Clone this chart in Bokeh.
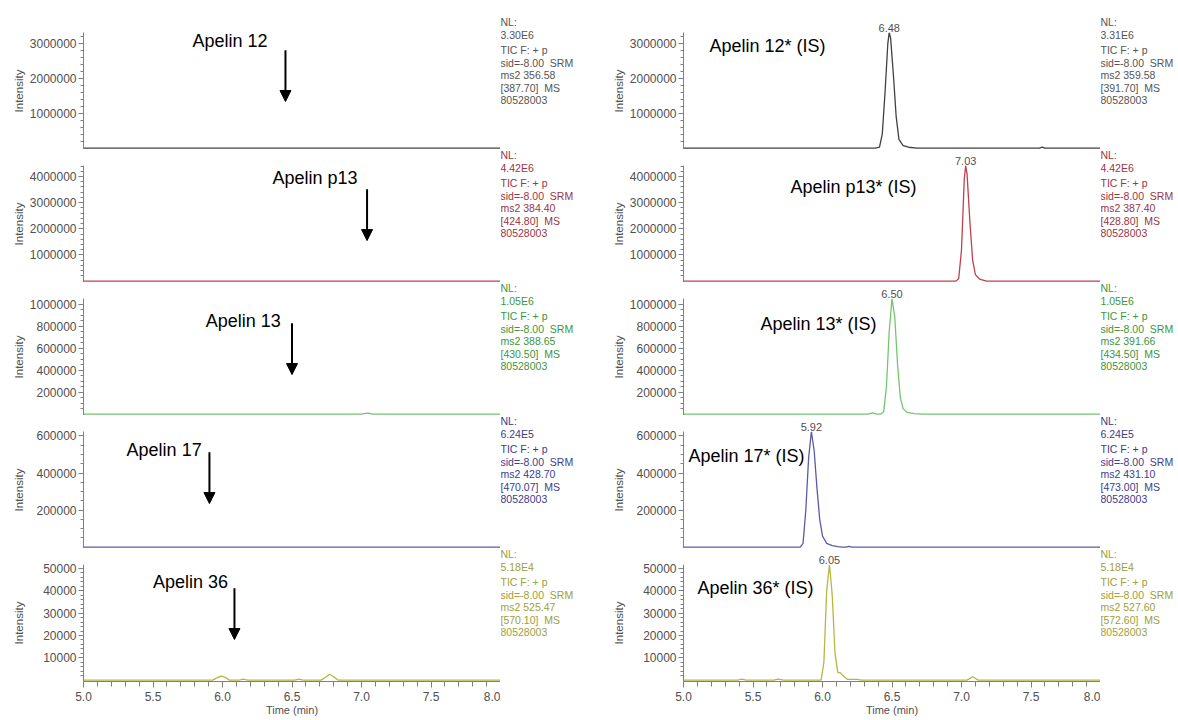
import numpy as np
from bokeh.plotting import figure
from bokeh.layouts import row, column
from bokeh.models import (Range1d, FixedTicker, NumeralTickFormatter, Label, Arrow,
                          NormalHead, Title)
from bokeh.embed import file_html
from bokeh.resources import INLINE

FONT = "Liberation Sans"

# ---------------- data ----------------
analytes = ["Apelin 12", "Apelin p13", "Apelin 13", "Apelin 17", "Apelin 36"]
standards = ["Apelin 12* (IS)", "Apelin p13* (IS)", "Apelin 13* (IS)", "Apelin 17* (IS)", "Apelin 36* (IS)"]
retention_times = [6.48, 7.03, 6.50, 5.92, 6.05]
rt_labels = ["6.48", "7.03", "6.50", "5.92", "6.05"]

nl_left = [3.30e6, 4.42e6, 1.05e6, 6.24e5, 5.18e4]
nl_right = [3.31e6, 4.42e6, 1.05e6, 6.24e5, 5.18e4]
nl_left_text = ["3.30E6", "4.42E6", "1.05E6", "6.24E5", "5.18E4"]
nl_right_text = ["3.31E6", "4.42E6", "1.05E6", "6.24E5", "5.18E4"]
precursor_left = ["356.58", "384.40", "388.65", "428.70", "525.47"]
product_left = ["387.70", "424.80", "430.50", "470.07", "570.10"]
precursor_right = ["359.58", "387.40", "391.66", "431.10", "527.60"]
product_right = ["391.70", "428.80", "434.50", "473.00", "572.60"]
file_id = "80528003"

y_major = [
    [1000000, 2000000, 3000000],
    [1000000, 2000000, 3000000, 4000000],
    [200000, 400000, 600000, 800000, 1000000],
    [200000, 400000, 600000],
    [10000, 20000, 30000, 40000, 50000],
]
y_minor_step = [200000, 200000, 50000, 50000, 2000]
x_major = [5.0, 5.5, 6.0, 6.5, 7.0, 7.5, 8.0]

# left column traces (analytes, essentially no signal)
left_t = [
    [5.0, 8.0],
    [5.0, 8.0],
    [5.0, 7.00, 7.03, 7.05, 7.08, 8.0],
    [5.0, 8.0],
    [5.0, 5.93, 5.96, 5.99, 6.02, 6.05, 6.12, 6.15, 6.18, 6.52, 6.55, 6.58,
     6.71, 6.74, 6.77, 6.80, 6.83, 8.0],
]
left_y = [
    [0, 0],
    [0, 0],
    [0, 0, 7000, 9000, 0, 0],
    [0, 0],
    [0, 0, 1000, 1800, 1200, 0, 0, 400, 0, 0, 400, 0,
     0, 1200, 2600, 1500, 0, 0],
]

# right column traces (internal standards)
right_t = [
    [5.0, 6.38, 6.41, 6.43, 6.45, 6.47, 6.48, 6.49, 6.51, 6.53, 6.55, 6.58, 6.62, 6.68,
     7.56, 7.58, 7.60, 8.0],
    [5.0, 6.96, 6.98, 7.00, 7.02, 7.03, 7.04, 7.06, 7.08, 7.10, 7.13, 7.18, 8.0],
    [5.0, 6.33, 6.36, 6.39, 6.42, 6.44, 6.46, 6.48, 6.50, 6.52, 6.54, 6.56, 6.58, 6.61,
     6.66, 6.72, 8.0],
    [5.0, 5.84, 5.86, 5.88, 5.90, 5.92, 5.94, 5.96, 5.98, 6.00, 6.03, 6.07, 6.11, 6.14,
     6.17, 6.19, 6.21, 8.0],
    [5.0, 5.39, 5.42, 5.45, 5.65, 5.68, 5.72, 5.99, 6.01, 6.03, 6.05, 6.07, 6.09, 6.11,
     6.13, 6.15, 6.18, 6.20, 6.25, 6.28, 7.04, 7.08, 7.12, 8.0],
]
right_y = [
    [0, 0, 30000, 400000, 1600000, 3000000, 3310000, 3150000, 2100000, 900000, 250000,
     70000, 25000, 0, 0, 30000, 0, 0],
    [0, 0, 100000, 1200000, 3900000, 4420000, 4100000, 2300000, 800000, 250000, 80000, 0, 0],
    [0, 0, 12000, 0, 0, 20000, 250000, 750000, 1050000, 880000, 450000, 150000, 50000,
     15000, 5000, 0, 0],
    [0, 0, 20000, 200000, 480000, 624000, 520000, 320000, 150000, 60000, 20000, 8000,
     3000, 0, 0, 4000, 0, 0],
    [0, 0, 400, 0, 0, 400, 0, 0, 8000, 40000, 51800, 38000, 12000, 3500, 3200, 1800,
     300, 300, 300, 0, 0, 1500, 0, 0],
]

trace_colors = ["#404040", "#c04050", "#74c474", "#5a5aa8", "#b4b840"]
text_colors = ["#555555", "#9a3545", "#3c963c", "#3c3c8c", "#a0a038"]

# annotation placements (time, intensity)
left_label_pos = [(5.784, 3.07e6), (6.36, 3.93e6), (5.88, 0.844e6), (5.31, 5.23e5), (5.50, 4.38e4)]
left_arrows = [(6.453, 2.79e6, 1.33e6), (7.04, 3.51e6, 1.55e6), (6.50, 0.826e6, 0.359e6),
               (5.906, 5.12e5, 2.35e5), (6.086, 4.12e4, 1.82e4)]
right_label_pos = [(5.187, 2.91e6), (5.77, 3.59e6), (5.554, 0.817e6), (5.036, 4.9e5), (5.10, 4.12e4)]

# ---------------- layout constants ----------------
FW, FH = 417, 117
PX_PER_MIN = FW / 3.0
GREY = "#808080"
LBL = "#505050"
PAD = 0.012
BORDER_LEFT = 83
BOTTOM_AXIS = 37
TEXT_W = {"left": 100, "right": 76}
label_standoff = [2, 2, 2, 8, 15]
NBSP = "\u00a0"


def border_top(i):
    return 32 if i == 0 else 16


def fig_height(i):
    return border_top(i) + FH + (BOTTOM_AXIS if i == 4 else 0)


def make_panel(side, i):
    left = side == "left"
    nl = nl_left[i] if left else nl_right[i]
    bottom = i == 4
    p = figure(frame_width=FW, frame_height=FH, output_backend="svg", toolbar_location=None,
               x_range=Range1d(5.0, 8.0), y_range=Range1d(-PAD * nl, nl),
               min_border_left=BORDER_LEFT, min_border_right=0,
               min_border_top=border_top(i), min_border_bottom=BOTTOM_AXIS if bottom else 0)
    p.outline_line_color = None
    p.xgrid.visible = False
    p.ygrid.visible = False
    p.background_fill_color = "white"
    p.border_fill_color = "white"

    # y axis
    yax = p.yaxis[0]
    minors = list(np.arange(y_minor_step[i], nl, y_minor_step[i]))
    yax.ticker = FixedTicker(ticks=y_major[i], minor_ticks=minors)
    yax.formatter = NumeralTickFormatter(format="0")
    yax.major_label_text_font = FONT
    yax.major_label_text_font_size = "12px"
    yax.major_label_text_color = LBL
    yax.axis_line_color = GREY
    yax.major_tick_line_color = GREY
    yax.minor_tick_line_color = GREY
    yax.major_tick_out = 5
    yax.major_tick_in = 0
    yax.minor_tick_out = 3
    yax.minor_tick_in = 0
    yax.major_label_standoff = 2
    yax.axis_label = "Intensity"
    yax.axis_label_text_font = FONT
    yax.axis_label_text_font_size = "11.5px"
    yax.axis_label_text_font_style = "normal"
    yax.axis_label_text_color = LBL
    yax.axis_label_standoff = label_standoff[i]

    # x axis
    if bottom:
        xax = p.xaxis[0]
        xax.ticker = FixedTicker(ticks=x_major, minor_ticks=list(np.round(np.arange(5.0, 8.01, 0.1), 1)))
        xax.formatter = NumeralTickFormatter(format="0.0")
        xax.axis_label = "Time (min)"
        xax.axis_label_text_font = FONT
        xax.axis_label_text_font_size = "11px"
        xax.axis_label_text_font_style = "normal"
        xax.axis_label_text_color = LBL
        xax.axis_label_standoff = 0
        xax.major_label_text_font = FONT
        xax.major_label_text_font_size = "12px"
        xax.major_label_text_color = LBL
        xax.axis_line_color = GREY
        xax.major_tick_line_color = GREY
        xax.minor_tick_line_color = GREY
        xax.major_tick_out = 6
        xax.major_tick_in = 0
        xax.minor_tick_out = 5
        xax.minor_tick_in = 0
        xax.major_label_standoff = 4
    else:
        p.xaxis.visible = False

    # trace
    t = left_t[i] if left else right_t[i]
    y = left_y[i] if left else right_y[i]
    p.line(t, y, line_color=trace_colors[i], line_width=1.3)

    if left:
        lx, ly = left_label_pos[i]
        p.add_layout(Label(x=lx, y=ly, text=analytes[i], text_font=FONT, text_font_size="18px",
                           text_color="black", text_align="left", text_baseline="middle"))
        ax, ay1, ay2 = left_arrows[i]
        p.add_layout(Arrow(end=NormalHead(size=11, fill_color="black", line_color="black", line_width=1),
                           x_start=ax, y_start=ay1, x_end=ax, y_end=ay2,
                           line_color="black", line_width=2))
    else:
        lx, ly = right_label_pos[i]
        p.add_layout(Label(x=lx, y=ly, text=standards[i], text_font=FONT, text_font_size="18px",
                           text_color="black", text_align="left", text_baseline="middle"))
        # retention-time label above the apex
        off = (retention_times[i] - 5.0) * PX_PER_MIN - 10.7
        p.add_layout(Title(text=rt_labels[i], align="left", offset=off, standoff=1,
                           text_font=FONT, text_font_size="11px", text_font_style="normal",
                           text_color=LBL), "above")
    return p


def make_info(side, i):
    left = side == "left"
    w = TEXT_W[side]
    h = fig_height(i)
    p = figure(frame_width=w, frame_height=h, output_backend="svg", toolbar_location=None,
               x_range=Range1d(0, w), y_range=Range1d(0, h),
               min_border_left=0, min_border_right=0, min_border_top=0, min_border_bottom=0)
    p.axis.visible = False
    p.grid.visible = False
    p.outline_line_color = None
    p.background_fill_color = "white"
    p.border_fill_color = "white"
    lines = ["NL:",
             nl_left_text[i] if left else nl_right_text[i],
             "TIC F: + p",
             "sid=-8.00" + NBSP + " SRM",
             "ms2 " + (precursor_left[i] if left else precursor_right[i]),
             "[" + (product_left[i] if left else product_right[i]) + "]" + NBSP + " MS",
             file_id]
    offs = [-11, 2, 17, 30, 42, 55, 67]
    top = h - border_top(i)
    for s, o in zip(lines, offs):
        p.add_layout(Label(x=0, y=top - o, text=s, text_font=FONT, text_font_size="10.5px",
                           text_color=text_colors[i], text_align="left", text_baseline="middle"))
    return p


cols = []
for side in ["left", "right"]:
    cols.append(column(*[make_panel(side, i) for i in range(5)], spacing=0))
    cols.append(column(*[make_info(side, i) for i in range(5)], spacing=0))
layout = row(*cols, spacing=0)

open("out.html", "w").write(file_html(layout, INLINE))
